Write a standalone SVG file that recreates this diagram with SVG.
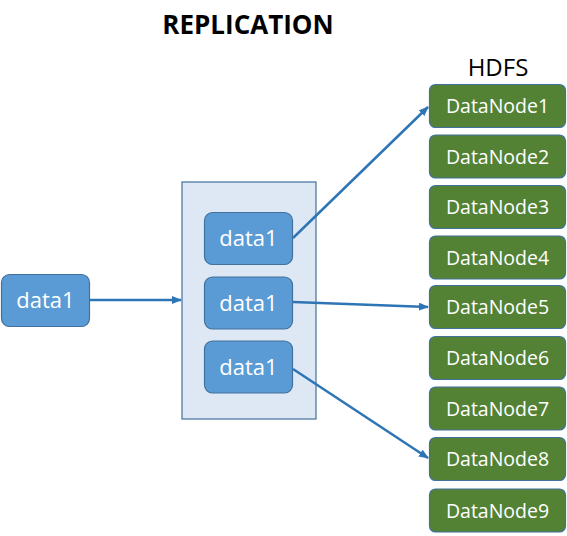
<svg xmlns="http://www.w3.org/2000/svg" width="567" height="536" viewBox="0 0 567 536">
<defs>
<marker id="ah" markerWidth="10" markerHeight="8" refX="9" refY="4" orient="auto" markerUnits="userSpaceOnUse">
<path d="M0,0 L10,4 L0,8 Z" fill="#2e75b6"/>
</marker>
<style>
.blue{fill:#5b9bd5;stroke:#41719c;stroke-width:1.2}
.green{fill:#548235;stroke:#41719c;stroke-width:1.2}
.cont{fill:#dee8f4;stroke:#41719c;stroke-width:1.2}
.wt{fill:#ffffff;font-family:"Open Sans","Noto Sans",sans-serif;text-anchor:middle}
.d{font-size:22px}
.n{font-size:19.5px}
.conn{stroke:#2e75b6;stroke-width:2.5;fill:none;marker-end:url(#ah)}
.title{font-family:"Open Sans","Noto Sans",sans-serif;font-weight:bold;font-size:26px;text-anchor:middle;fill:#000}
.hdfs{font-family:"Open Sans","Noto Sans",sans-serif;font-size:24px;text-anchor:middle;fill:#000}
</style>
</defs>
<rect width="567" height="536" fill="#ffffff"/>
<text class="title" x="248" y="34">REPLICATION</text>
<text class="hdfs" x="498" y="76">HDFS</text>
<g id="container"><rect class="cont" x="182" y="182" width="134" height="237"/></g>
<g id="src"><rect class="blue" x="1.5" y="274.5" width="88" height="52" rx="8"/><text class="wt d" x="45.5" y="308">data1</text></g>
<g id="rep1"><rect class="blue" x="204.5" y="212.5" width="88" height="52" rx="8"/><text class="wt d" x="248.5" y="246">data1</text></g>
<g id="rep2"><rect class="blue" x="204.5" y="277" width="88" height="52" rx="8"/><text class="wt d" x="248.5" y="310.5">data1</text></g>
<g id="rep3"><rect class="blue" x="204.5" y="341" width="88" height="52" rx="8"/><text class="wt d" x="248.5" y="374.5">data1</text></g>
<g id="dn1"><rect class="green" x="429.5" y="84.5" width="136" height="43" rx="6"/><text class="wt n" x="497.5" y="113">DataNode1</text></g>
<g id="dn2"><rect class="green" x="429.5" y="135" width="136" height="43" rx="6"/><text class="wt n" x="497.5" y="163.5">DataNode2</text></g>
<g id="dn3"><rect class="green" x="429.5" y="185.5" width="136" height="43" rx="6"/><text class="wt n" x="497.5" y="214">DataNode3</text></g>
<g id="dn4"><rect class="green" x="429.5" y="236" width="136" height="43" rx="6"/><text class="wt n" x="497.5" y="264.5">DataNode4</text></g>
<g id="dn5"><rect class="green" x="429.5" y="285.5" width="136" height="43" rx="6"/><text class="wt n" x="497.5" y="314">DataNode5</text></g>
<g id="dn6"><rect class="green" x="429.5" y="336.5" width="136" height="43" rx="6"/><text class="wt n" x="497.5" y="365">DataNode6</text></g>
<g id="dn7"><rect class="green" x="429.5" y="387" width="136" height="43" rx="6"/><text class="wt n" x="497.5" y="415.5">DataNode7</text></g>
<g id="dn8"><rect class="green" x="429.5" y="437.5" width="136" height="43" rx="6"/><text class="wt n" x="497.5" y="466">DataNode8</text></g>
<g id="dn9"><rect class="green" x="429.5" y="489" width="136" height="43" rx="6"/><text class="wt n" x="497.5" y="517.5">DataNode9</text></g>
<g id="connectors">
<line class="conn" x1="90" y1="300" x2="181" y2="300"/>
<line class="conn" x1="293" y1="238" x2="428" y2="107"/>
<line class="conn" x1="293" y1="302" x2="428" y2="307"/>
<line class="conn" x1="293" y1="369" x2="428" y2="458"/>
</g>
</svg>
